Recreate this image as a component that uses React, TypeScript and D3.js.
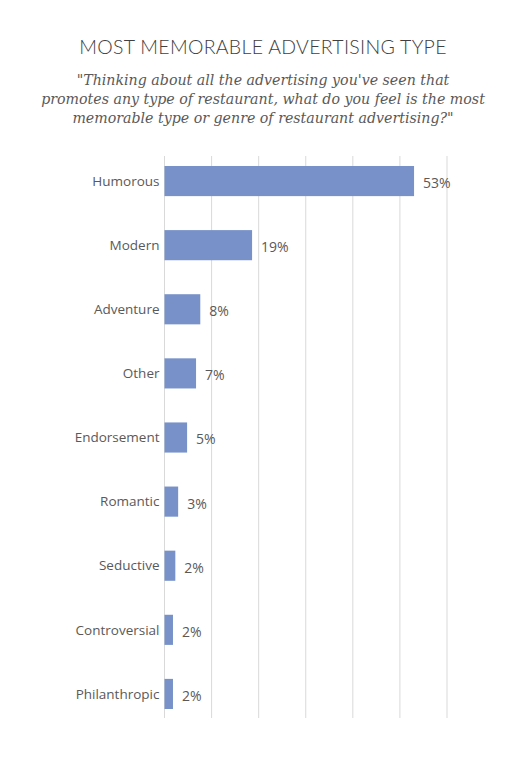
import * as d3 from 'd3';

const CATEGORIES = ['Humorous', 'Modern', 'Adventure', 'Other', 'Endorsement', 'Romantic', 'Seductive', 'Controversial', 'Philanthropic'];
const VALUES = [53, 18.6, 7.6, 6.7, 4.8, 2.9, 2.3, 1.8, 1.8];
const VALUE_LABELS = ['53%', '19%', '8%', '7%', '5%', '3%', '2%', '2%', '2%'];
const GRID_TICKS = [0, 10, 20, 30, 40, 50, 60];

const TITLE = 'MOST MEMORABLE ADVERTISING TYPE';
const SUBTITLE_LINES = [
  '"Thinking about all the advertising you\'ve seen that',
  'promotes any type of restaurant, what do you feel is the most',
  'memorable type or genre of restaurant advertising?"'
];

const WIDTH = 525;
const HEIGHT = 758;
const BAR_COLOR = '#7892c9';
const GRID_COLOR = '#d9d9d9';
const TEXT_COLOR = '#595959';
const LABEL_FONT = '"Open Sans", "Noto Sans", sans-serif';

export default function App() {
  const x = d3.scaleLinear().domain([0, 60]).range([164.5, 447]);
  const y = d3.scaleBand().domain(CATEGORIES).range([149, 726]).paddingInner(0.53).paddingOuter(0.265);
  const gridTop = 156;
  const gridBottom = 718;

  return (
    <svg width={WIDTH} height={HEIGHT} style={{ display: 'block', position: 'absolute', left: 0, top: 0, background: '#fff' }}>
      <text x={263} y={54} textAnchor="middle" fill="#404040" fontSize={19.5} fontFamily='Lato, "Open Sans", sans-serif' fontWeight={300} letterSpacing={0.3}>
        {TITLE}
      </text>
      {SUBTITLE_LINES.map((line, i) => (
        <text key={i} x={263} y={85 + i * 19} textAnchor="middle" fill={TEXT_COLOR} fontSize={14.2} fontStyle="italic" fontFamily='"DejaVu Serif", serif'>
          {line}
        </text>
      ))}

      {/* gridlines */}
      {GRID_TICKS.map(t => (
        <line key={t} x1={x(t)} x2={x(t)} y1={gridTop} y2={gridBottom} stroke={GRID_COLOR} strokeWidth={1} />
      ))}

      {/* bars */}
      {CATEGORIES.map((c, i) => {
        const yb = y(c) as number;
        const h = y.bandwidth();
        return (
          <g key={c}>
            <rect x={x(0)} y={yb} width={x(VALUES[i]) - x(0)} height={h} fill={BAR_COLOR} />
            <text x={x(0) - 5} y={yb + h / 2} dy="0.35em" textAnchor="end" fill={TEXT_COLOR} fontSize={13.5} fontFamily={LABEL_FONT}>
              {c}
            </text>
            <text x={x(VALUES[i]) + 9} y={yb + h / 2 + 2} dy="0.35em" textAnchor="start" fill={TEXT_COLOR} fontSize={14} fontFamily={LABEL_FONT}>
              {VALUE_LABELS[i]}
            </text>
          </g>
        );
      })}
    </svg>
  );
}
